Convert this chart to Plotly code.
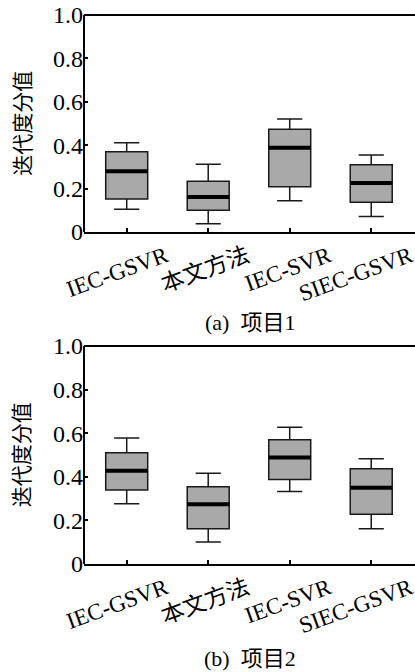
import plotly.graph_objects as go

categories = ["IEC-GSVR", "本文方法", "IEC-SVR", "SIEC-GSVR"]

# Project 1
p1_lower = [0.105, 0.038, 0.144, 0.071]
p1_q1 = [0.152, 0.100, 0.209, 0.137]
p1_median = [0.280, 0.161, 0.388, 0.226]
p1_q3 = [0.370, 0.234, 0.473, 0.310]
p1_upper = [0.411, 0.312, 0.521, 0.355]

# Project 2
p2_lower = [0.277, 0.101, 0.333, 0.162]
p2_q1 = [0.339, 0.162, 0.388, 0.228]
p2_median = [0.428, 0.274, 0.489, 0.350]
p2_q3 = [0.511, 0.355, 0.570, 0.437]
p2_upper = [0.578, 0.416, 0.627, 0.483]

y_tickvals = [0, 0.2, 0.4, 0.6, 0.8, 1.0]
y_ticktext = ["0", "0.2", "0.4", "0.6", "0.8", "1.0"]
y_title = "迭代度分值"
captions = ["(a)  项目1", "(b)  项目2"]

FONT = "Liberation Serif, Times New Roman, Noto Sans CJK SC, serif"

fig = go.Figure()

panels = [
    (p1_lower, p1_q1, p1_median, p1_q3, p1_upper, "x", "y"),
    (p2_lower, p2_q1, p2_median, p2_q3, p2_upper, "x2", "y2"),
]
for lo, q1, med, q3, up, xa, ya in panels:
    fig.add_trace(go.Box(
        x=categories, q1=q1, median=med, q3=q3, lowerfence=lo, upperfence=up,
        fillcolor="#a9a9a9", line=dict(color="#1a1a1a", width=1.5),
        width=0.515, whiskerwidth=0.6, boxpoints=False, showlegend=False,
        hoverinfo="skip", xaxis=xa, yaxis=ya))
    fig.add_trace(go.Box(
        x=categories, q1=med, median=med, q3=med, lowerfence=med, upperfence=med,
        fillcolor="rgba(0,0,0,0)", line=dict(color="black", width=4),
        width=0.515, whiskerwidth=0, boxpoints=False, showlegend=False,
        hoverinfo="skip", xaxis=xa, yaxis=ya))


def xaxis_style(anchor):
    return dict(
        range=[-0.524, 3.537], showline=True, linecolor="black", linewidth=2,
        mirror=False, ticks="inside", ticklen=4, tickwidth=1.5, tickcolor="black",
        tickangle=-20, ticklabelshift=39, ticklabelstandoff=0,
        tickfont=dict(family=FONT, size=23, color="black"), showgrid=False,
        zeroline=False, anchor=anchor, automargin=False,
    )


def yaxis_style(anchor, domain):
    return dict(
        range=[0, 1.0], tickvals=y_tickvals, ticktext=y_ticktext,
        showline=False, mirror=False,
        ticks="inside", ticklen=4, tickwidth=1.5, tickcolor="black",
        tickfont=dict(family=FONT, size=24, color="black"), showgrid=False,
        zeroline=False, anchor=anchor, domain=domain, automargin=False,
    )


fig.update_layout(
    width=415, height=672,
    margin=dict(l=84, r=0, t=15, b=108),
    plot_bgcolor="white", paper_bgcolor="white",
    boxmode="overlay",
    xaxis=xaxis_style("y"),
    yaxis=yaxis_style("x", [0.6047, 1.0]),
    xaxis2=xaxis_style("y2"),
    yaxis2=yaxis_style("x2", [0.0, 0.397]),
)

# frame: the panels are cut at the right edge, so only left/top/bottom lines show
for xr, yr in [("x domain", "y domain"), ("x2 domain", "y2 domain")]:
    fig.add_shape(type="rect", xref=xr, yref=yr, x0=0.985, x1=1.0, y0=0.008, y1=0.992,
                  fillcolor="white", line=dict(width=0), layer="above")
    fig.add_shape(type="line", xref=xr, yref=yr, x0=0, x1=1, y0=1, y1=1,
                  line=dict(color="black", width=2))
    fig.add_shape(type="line", xref=xr, yref=yr, x0=0, x1=0, y0=0, y1=1,
                  line=dict(color="black", width=2))

for yc in [(1.0 + 0.6047) / 2, 0.397 / 2]:
    fig.add_annotation(text=y_title, xref="paper", yref="paper", x=-0.193, y=yc,
                       textangle=-90, showarrow=False, xanchor="center", yanchor="middle",
                       font=dict(family="Noto Sans CJK SC", size=21, color="black"))

for cap, yc in zip(captions, [0.439, -0.173]):
    fig.add_annotation(text=cap, xref="paper", yref="paper", x=0.5015, y=yc,
                       showarrow=False, xanchor="center", yanchor="middle",
                       font=dict(family=FONT, size=22, color="black"))

fig.write_html("out.html")
